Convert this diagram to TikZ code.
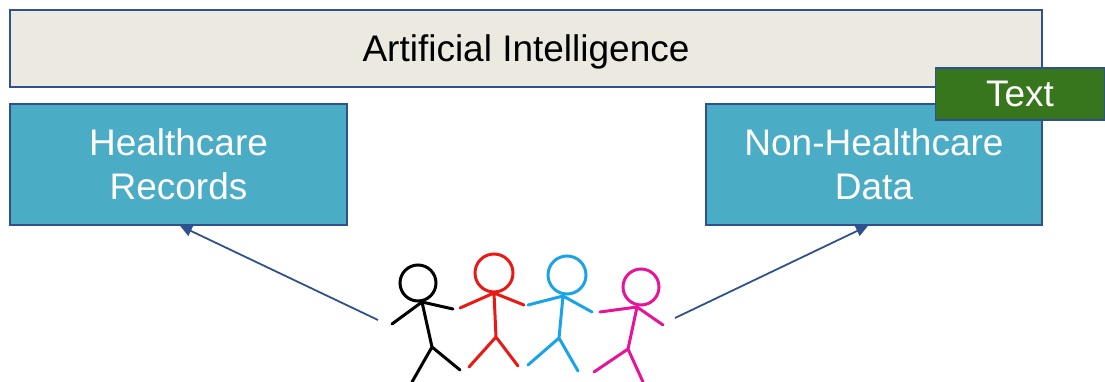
\documentclass[tikz,border=0pt]{standalone}
\usepackage{fontspec}
\setmainfont{Liberation Sans}
\usetikzlibrary{arrows.meta}
\definecolor{edgeblue}{RGB}{47,82,143}
\definecolor{boxbeige}{RGB}{236,233,224}
\definecolor{boxteal}{RGB}{75,172,198}
\definecolor{boxgreen}{RGB}{56,118,29}
\definecolor{manred}{RGB}{235,25,20}
\definecolor{manblue}{RGB}{26,163,232}
\definecolor{manpink}{RGB}{228,20,155}
\tikzset{
  panel/.style={draw=edgeblue, line width=1.5pt, minimum height=#1, inner sep=0pt, align=center,
    text depth=0pt, font=\fontsize{37}{44}\selectfont},
  link/.style={draw=edgeblue, line width=1.8pt, -{Triangle[length=12pt,width=11pt]}},
  limb/.style={line width=3pt, line cap=round}
}
\begin{document}
\begin{tikzpicture}[x=1pt,y=-1pt]
\useasboundingbox (0,0) rectangle (1105,382);
% boxes
\node[panel=77pt, fill=boxbeige, minimum width=1032pt] (ai) at (526,48.5) {Artificial Intelligence};
\node[panel=121pt, fill=boxteal, text=white, minimum width=337pt] (hr) at (178.5,164.5) {Healthcare\\Records};
\node[panel=121pt, fill=boxteal, text=white, minimum width=336pt] (nh) at (874,164.5) {Non-Healthcare\\Data};
\node[panel=52pt, fill=boxgreen, text=white, minimum width=169pt] (tag) at (1020,94) {Text};
% people
\draw[limb, black] (418,283) circle (18);
\draw[limb, black] (422,302) -- (432,347) (412,382) -- (432,347) -- (460,370)
  (392,324) -- (422,302) -- (453,309);
\draw[limb, manred] (494,273) circle (19);
\draw[limb, manred] (494,293) -- (496,337) (469,367) -- (496,337) -- (518,366)
  (460,308) -- (494,293) -- (524,305);
\draw[limb, manblue] (567,275) circle (19);
\draw[limb, manblue] (563,296) -- (559,338) (528,365) -- (559,338) -- (578,371)
  (528,305) -- (563,296) -- (592,312);
\draw[limb, manpink] (641,287) circle (18);
\draw[limb, manpink] (637,307) -- (628,349) (594,372) -- (628,349) -- (643,382)
  (600,312) -- (637,307) -- (663,325);
% arrows
\coordinate (lfoot) at (378,320);
\coordinate (rfoot) at (675,318);
\draw[link] (lfoot) -- (hr.south -| 180,0);
\draw[link] (rfoot) -- (nh.south -| 868,0);
\end{tikzpicture}
\end{document}
